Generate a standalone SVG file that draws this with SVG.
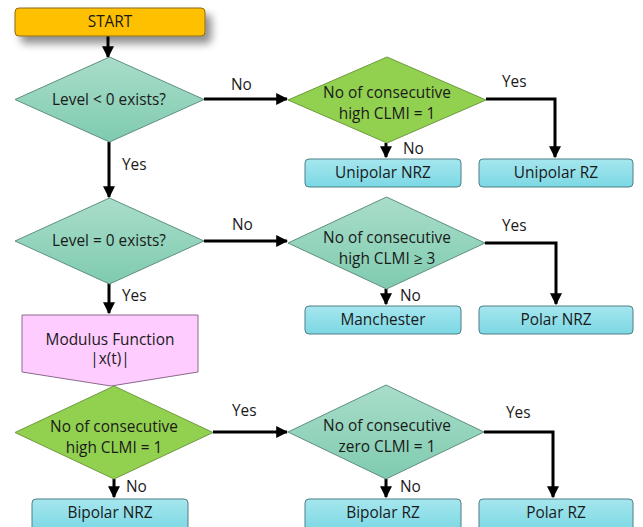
<svg xmlns="http://www.w3.org/2000/svg" width="643" height="527" viewBox="0 0 643 527">
<defs>
<linearGradient id="gTeal" x1="0" y1="0" x2="0" y2="1"><stop offset="0" stop-color="#A9DDC9"/><stop offset="1" stop-color="#7FCBB0"/></linearGradient>
<linearGradient id="gCyan" x1="0" y1="0" x2="0" y2="1"><stop offset="0" stop-color="#A6E6EE"/><stop offset="1" stop-color="#7BD8E4"/></linearGradient>
<filter id="sh" x="-20%" y="-50%" width="150%" height="250%"><feGaussianBlur in="SourceAlpha" stdDeviation="4"/><feOffset dx="6" dy="7"/><feComponentTransfer><feFuncA type="linear" slope="0.45"/></feComponentTransfer><feMerge><feMergeNode/><feMergeNode in="SourceGraphic"/></feMerge></filter>
<marker id="ah" viewBox="0 0 10 10" refX="9" refY="5" markerWidth="4" markerHeight="4" orient="auto"><path d="M0,0 L10,5 L0,10 z" fill="#000"/></marker>
</defs>
<style>
text{font-family:"Open Sans","Liberation Sans",sans-serif;font-size:15.4px;fill:#1a1a1a;text-anchor:middle}
.lbl{text-anchor:start}
.teal{fill:url(#gTeal);stroke:#5f8f80;stroke-width:1}
.green{fill:#92D050;stroke:#6f9a40;stroke-width:1}
.box{fill:url(#gCyan);stroke:#4f7f86;stroke-width:1}
.conn{fill:none;stroke:#000;stroke-width:3;marker-end:url(#ah)}
</style>
<rect width="643" height="527" fill="#fff"/>
<g id="connectors">
<path class="conn" d="M108,36 V57"/>
<path class="conn" d="M204,99 H287"/>
<path class="conn" d="M486,99 H555 V157"/>
<path class="conn" d="M386,143 V157"/>
<path class="conn" d="M109,142 V197"/>
<path class="conn" d="M204,241 H287"/>
<path class="conn" d="M485,243 H556 V304"/>
<path class="conn" d="M386,289 V304"/>
<path class="conn" d="M109,283 V313"/>
<path class="conn" d="M213,432 H287"/>
<path class="conn" d="M484,432 H553 V497"/>
<path class="conn" d="M386,479 V497"/>
<path class="conn" d="M114,479 V497"/>
</g>
<g id="edge-labels">
<text class="lbl" x="231" y="90">No</text>
<text class="lbl" x="502" y="87">Yes</text>
<text class="lbl" x="403" y="154">No</text>
<text class="lbl" x="122" y="170">Yes</text>
<text class="lbl" x="232" y="230">No</text>
<text class="lbl" x="502" y="231">Yes</text>
<text class="lbl" x="400" y="301">No</text>
<text class="lbl" x="122" y="301">Yes</text>
<text class="lbl" x="232" y="416">Yes</text>
<text class="lbl" x="506" y="418">Yes</text>
<text class="lbl" x="400" y="492">No</text>
<text class="lbl" x="126" y="492">No</text>
</g>
<g id="start">
<rect x="15" y="8" width="190" height="28" rx="4" fill="#FFC000" stroke="#8a6a10" stroke-width="1" filter="url(#sh)"/>
<text x="110" y="27">START</text>
</g>
<g id="d-level-lt0">
<polygon class="teal" points="109.5,57 204,99.5 109.5,142 15,99.5"/>
<text x="109" y="105">Level &lt; 0 exists?</text>
</g>
<g id="d-high1-top">
<polygon class="green" points="387,57 486,100 387,143 288,100"/>
<text x="387" y="98">No of consecutive</text>
<text x="387" y="119">high CLMI = 1</text>
</g>
<g id="unipolar-nrz">
<rect class="box" x="305" y="159" width="156" height="28" rx="4"/>
<text x="383" y="178">Unipolar NRZ</text>
</g>
<g id="unipolar-rz">
<rect class="box" x="479" y="159" width="154" height="28" rx="4"/>
<text x="556" y="178">Unipolar RZ</text>
</g>
<g id="d-level-eq0">
<polygon class="teal" points="109.5,198 204,241 109.5,284 15,241"/>
<text x="109" y="246">Level = 0 exists?</text>
</g>
<g id="d-high3">
<polygon class="teal" points="386.5,197 485,243 386.5,289 288,243"/>
<text x="387" y="243">No of consecutive</text>
<text x="387" y="264">high CLMI ≥ 3</text>
</g>
<g id="manchester">
<rect class="box" x="305" y="306" width="156" height="28" rx="4"/>
<text x="383" y="325">Manchester</text>
</g>
<g id="polar-nrz">
<rect class="box" x="479" y="306" width="154" height="28" rx="4"/>
<text x="556" y="325">Polar NRZ</text>
</g>
<g id="modulus">
<polygon points="22,315 198,315 198,372 111,386 22,372" fill="#FFCCFF" stroke="#8a6a8a" stroke-width="1"/>
<text x="110" y="345">Modulus Function</text>
<text x="110" y="364">|x(t)|</text>
</g>
<g id="d-high1-bottom">
<polygon class="green" points="114,386 213,432.5 114,479 15,432.5"/>
<text x="114" y="432">No of consecutive</text>
<text x="114" y="453">high CLMI = 1</text>
</g>
<g id="d-zero1">
<polygon class="teal" points="386,385 484,432 386,479 288,432"/>
<text x="387" y="431">No of consecutive</text>
<text x="387" y="452">zero CLMI = 1</text>
</g>
<g id="bipolar-nrz">
<rect class="box" x="32" y="499" width="156" height="32" rx="4"/>
<text x="110" y="518">Bipolar NRZ</text>
</g>
<g id="bipolar-rz">
<rect class="box" x="305" y="499" width="156" height="32" rx="4"/>
<text x="383" y="518">Bipolar RZ</text>
</g>
<g id="polar-rz">
<rect class="box" x="479" y="499" width="154" height="32" rx="4"/>
<text x="556" y="518">Polar RZ</text>
</g>
</svg>
